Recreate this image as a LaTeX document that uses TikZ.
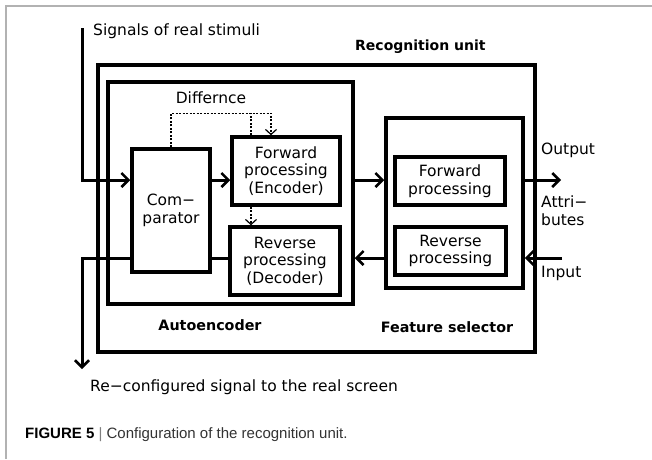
\documentclass[tikz,border=0pt]{standalone}
\usepackage{fontspec}
\setmainfont{DejaVu Sans}
\newfontfamily\capfont{Liberation Sans}
\usetikzlibrary{arrows.meta,positioning}

\begin{document}
\begin{tikzpicture}[x=1pt,y=-1pt,
	box/.style={draw,line width=3.5pt,inner sep=0pt,align=center,font=\fontsize{15.5}{17.5}\selectfont},
	conn/.style={line width=3pt},
	sig/.style={conn,-{Straight Barb[length=7pt,width=14pt,line width=2.5pt]}},
	diff/.style={line width=1.3pt,dash pattern=on 2pt off 1.5pt},
	diffarrow/.style={diff,-{Straight Barb[length=5pt,width=11pt,line width=1.2pt]}},
	lbl/.style={inner sep=0pt,font=\fontsize{15.5}{17}\selectfont},
	title/.style={inner sep=0pt,font=\fontsize{14.3}{16}\selectfont\bfseries}]
	\useasboundingbox (0,0) rectangle (652,459);

	%Grey frame of the figure panel
	\draw[gray!60,line width=2pt] (6,459) -- (6,6) -- (652,6);

	%Recognition unit and the two blocks inside it
	\node[box,line width=4pt,minimum width=437pt,minimum height=287pt] (recog) at (316.5,208.5) {};
	\node[box,minimum width=245pt,minimum height=222pt] (auto) at (230.5,193) {};
	\node[box,minimum width=137pt,minimum height=170pt] (fsel) at (454.5,203) {};

	%Autoencoder parts
	\node[box,minimum width=78pt,minimum height=123pt] (comp) at (171,210.5) {Com−\\parator};
	\node[box,minimum width=108pt,minimum height=68pt] (enc) at (286,171) {Forward\\processing\\(Encoder)};
	\node[box,minimum width=110pt,minimum height=68pt] (dec) at (285,261) {Reverse\\processing\\(Decoder)};

	%Feature selector parts
	\node[box,minimum width=110pt,minimum height=48pt] (ffwd) at (450,181) {Forward\\processing};
	\node[box,minimum width=111pt,minimum height=48pt] (frev) at (450.5,251) {Reverse\\processing};

	%Labels
	\node[lbl,anchor=west] (stimuli) at (93,31) {Signals of real stimuli};
	\node[title,anchor=west,font=\fontsize{14}{16}\selectfont\bfseries] (recogname) at (355,47) {Recognition unit};
	\node[lbl] (difflbl) at (211,98) {Differnce};
	\node[title] (autoname) at (210,325) {Autoencoder};
	\node[title] (fselname) at (447,327) {Feature selector};
	\node[lbl,anchor=west] (outlbl) at (541,150) {Output};
	\node[lbl,anchor=west,align=left,font=\fontsize{15.5}{18}\selectfont] (attr) at (541,211) {Attri−\\butes};
	\node[lbl,anchor=west] (inlbl) at (541,273) {Input};
	\node[lbl,anchor=west] (screen) at (90,387) {Re−configured signal to the real screen};
	\node[inner sep=0pt,anchor=west,font=\capfont\fontsize{15}{17}\selectfont] (caption) at (25,435)
		{\textbf{FIGURE 5} \textcolor{gray}{|} \textcolor{black!80}{Configuration of the recognition unit.}};

	%Rows of the signal paths
	\coordinate (fwdrow) at (0,180);
	\coordinate (revrow) at (0,258);
	\coordinate (sigtop) at (82,28);
	\coordinate (sigbot) at (82,369);
	\coordinate (outend) at (561,180);
	\coordinate (inend) at (562,258);

	%Signal paths
	\draw[sig] (sigtop) |- (comp.west |- fwdrow);
	\draw[sig] (comp.east |- fwdrow) -- (enc.west |- fwdrow);
	\draw[conn] (dec.west |- revrow) -- (comp.east |- revrow);
	\draw[sig] (comp.west |- revrow) -| (sigbot);
	\draw[sig] (auto.east |- fwdrow) -- (fsel.west |- fwdrow);
	\draw[sig] (fsel.west |- revrow) -- (auto.east |- revrow);
	\draw[sig] (fsel.east |- fwdrow) -- (outend);
	\draw[sig] (inend) -- (fsel.east |- revrow);

	%Difference paths (dotted)
	\draw[diffarrow] (comp.north) -- ++(0,-34) -| ([xshift=-15pt]enc.north);
	\draw[diff] ([xshift=-35pt]enc.north) -- ++(0,-22);
	\draw[diffarrow] ([xshift=-35pt]enc.south) -- ([xshift=-35pt]enc.south |- dec.north);
\end{tikzpicture}
\end{document}
